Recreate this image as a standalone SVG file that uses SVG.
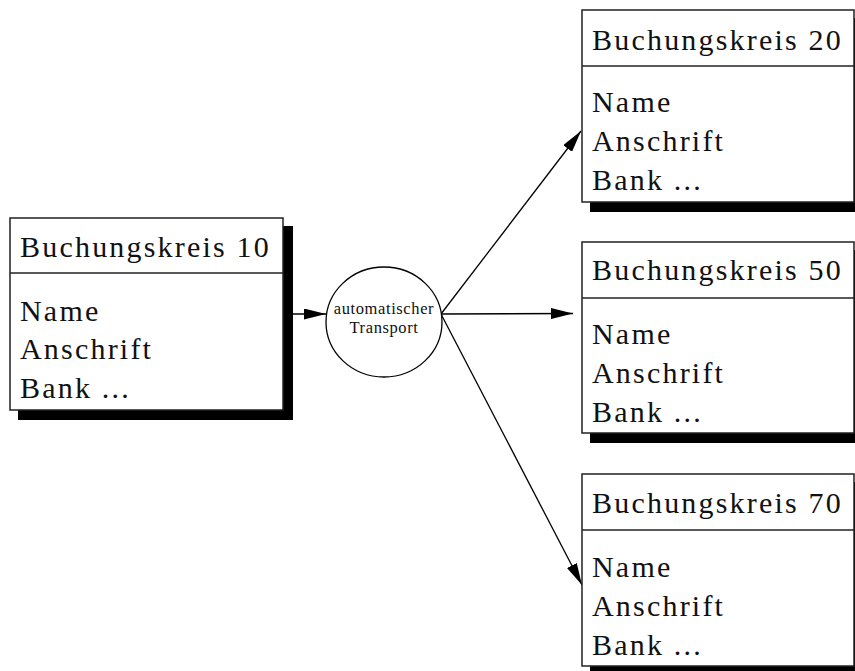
<svg xmlns="http://www.w3.org/2000/svg" width="855" height="671" viewBox="0 0 855 671">
<defs>
<style>
.box{fill:#fff;stroke:#222;stroke-width:1.5}
.shadow{fill:#000;stroke:none}
.div{stroke:#222;stroke-width:1.5}
.t{font-family:"Liberation Serif","Times New Roman",serif;font-size:30px;letter-spacing:2.2px;fill:#111}
.c{font-family:"Liberation Serif","Times New Roman",serif;font-size:16.5px;letter-spacing:0.6px;fill:#111;text-anchor:middle}
.line{stroke:#000;stroke-width:1.3;fill:none}
</style>
<marker id="arrow" markerWidth="22" markerHeight="11" refX="22" refY="5.5" orient="auto" markerUnits="userSpaceOnUse">
<path d="M0,0 L22,5.5 L0,11 Z" fill="#000"/>
</marker>
</defs>
<rect width="855" height="671" fill="#fff"/>

<g id="connectors">
<line class="line" x1="284" y1="314" x2="326" y2="314" marker-end="url(#arrow)"/>
<line class="line" x1="441" y1="314" x2="581" y2="131" marker-end="url(#arrow)"/>
<line class="line" x1="441" y1="314" x2="573" y2="313.5" marker-end="url(#arrow)"/>
<line class="line" x1="441" y1="314" x2="582" y2="585" marker-end="url(#arrow)"/>
</g>

<g id="bk10">
<rect class="shadow" x="18" y="226" width="275" height="194"/>
<rect class="box" x="10" y="218" width="273" height="192"/>
<line class="div" x1="10" y1="273" x2="283" y2="273"/>
<text class="t" x="20" y="257">Buchungskreis 10</text>
<text class="t" x="20" y="321">Name</text>
<text class="t" x="20" y="359">Anschrift</text>
<text class="t" x="20" y="398">Bank ...</text>
</g>

<g id="transport">
<ellipse cx="384" cy="322" rx="58" ry="55" fill="#fff" stroke="#000" stroke-width="1.3"/>
<text class="c" x="384" y="314">automatischer</text>
<text class="c" x="384" y="333">Transport</text>
</g>

<g id="bk20">
<rect class="shadow" x="590" y="18" width="275" height="194"/>
<rect class="box" x="582" y="10" width="272" height="192"/>
<line class="div" x1="582" y1="66" x2="854" y2="66"/>
<text class="t" x="592" y="50">Buchungskreis 20</text>
<text class="t" x="592" y="112">Name</text>
<text class="t" x="592" y="151">Anschrift</text>
<text class="t" x="592" y="190">Bank ...</text>
</g>

<g id="bk50">
<rect class="shadow" x="590" y="250" width="275" height="193"/>
<rect class="box" x="582" y="242" width="272" height="191"/>
<line class="div" x1="582" y1="298" x2="854" y2="298"/>
<text class="t" x="592" y="280">Buchungskreis 50</text>
<text class="t" x="592" y="344">Name</text>
<text class="t" x="592" y="383">Anschrift</text>
<text class="t" x="592" y="422">Bank ...</text>
</g>

<g id="bk70">
<rect class="shadow" x="590" y="482" width="275" height="194"/>
<rect class="box" x="582" y="474" width="272" height="192"/>
<line class="div" x1="582" y1="530" x2="854" y2="530"/>
<text class="t" x="592" y="513">Buchungskreis 70</text>
<text class="t" x="592" y="577">Name</text>
<text class="t" x="592" y="616">Anschrift</text>
<text class="t" x="592" y="655">Bank ...</text>
</g>
</svg>
